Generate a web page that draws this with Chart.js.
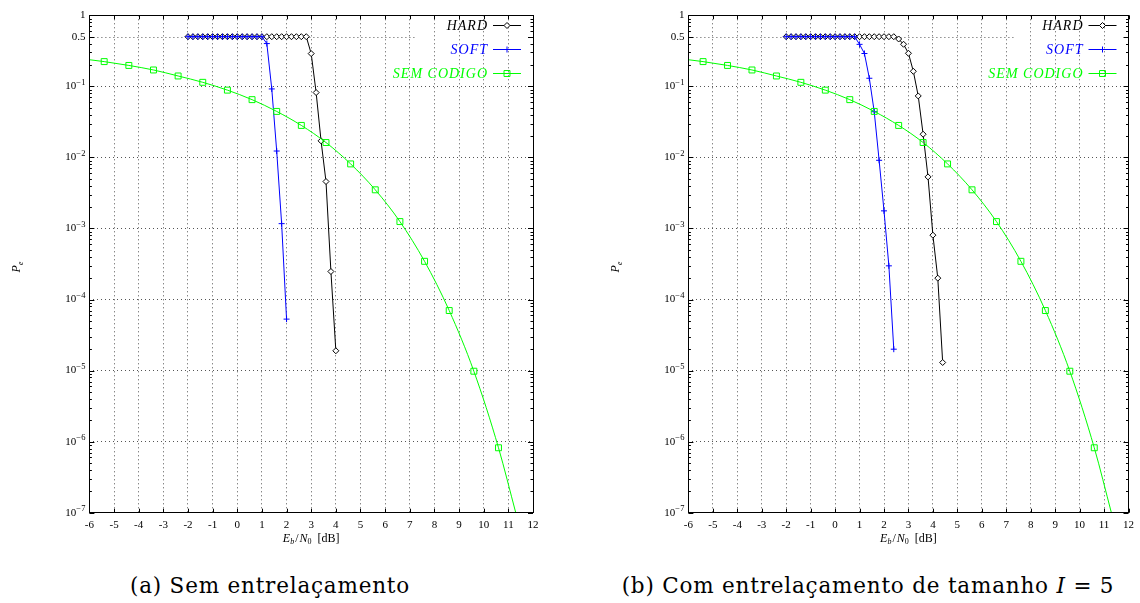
<!DOCTYPE html>
<html>
<head>
<meta charset="utf-8">
<script src="https://cdn.jsdelivr.net/npm/chart.js@4.4.0/dist/chart.umd.min.js"></script>
<style>
  html, body { margin: 0; padding: 0; background: #fff; }
  #wrap { position: relative; width: 1140px; height: 603px; overflow: hidden; }
  canvas { position: absolute; top: 0; }
  #chartA { left: 0; }
  #chartB { left: 570px; }
  .cap { position: absolute; top: 573px; font-family: 'DejaVu Serif', serif; font-size: 21.5px;
         letter-spacing: 0.8px; color: #000; white-space: nowrap; transform: translateX(-50%); }
</style>
</head>
<body>
<div id="wrap">
  <canvas id="chartA" width="570" height="560"></canvas>
  <canvas id="chartB" width="570" height="560"></canvas>
  <div class="cap" style="left:270px">(a) Sem entrelaçamento</div>
  <div class="cap" style="left:868px">(b) Com entrelaçamento de tamanho <i>I</i> = 5</div>
</div>
<script>
const X_TICKS = [-6, -5, -4, -3, -2, -1, 0, 1, 2, 3, 4, 5, 6, 7, 8, 9, 10, 11, 12];
const Y_TICKS = [1e-7, 1e-6, 1e-5, 1e-4, 1e-3, 1e-2, 1e-1, 0.5, 1];
const Y_TICK_LABELS = ['10|-7', '10|-6', '10|-5', '10|-4', '10|-3', '10|-2', '10|-1', '0.5', '1'];
const SERIES_LABELS = ['HARD', 'SOFT', 'SEM CODIGO'];
const SERIES_COLORS = ['#000000', '#0000ff', '#00ff00'];

// (a) sem entrelaçamento
const hardX_a = [-2, -1.8, -1.6, -1.4, -1.2, -1, -0.8, -0.6, -0.4, -0.2, 0, 0.2, 0.4, 0.6, 0.8,
                 1, 1.2, 1.4, 1.6, 1.8, 2, 2.2, 2.4, 2.6, 2.8, 3, 3.2, 3.4, 3.6, 3.8, 4];
const hardY_a = [0.5, 0.5, 0.5, 0.5, 0.5, 0.5, 0.5, 0.5, 0.5, 0.5, 0.5, 0.5, 0.5, 0.5, 0.5,
                 0.5, 0.5, 0.5, 0.5, 0.5, 0.5, 0.5, 0.5, 0.5, 0.5,
                 0.289, 0.0818, 0.0171, 0.00458, 2.48e-4, 1.9e-5];
const softX_a = [-2, -1.8, -1.6, -1.4, -1.2, -1, -0.8, -0.6, -0.4, -0.2, 0, 0.2, 0.4, 0.6, 0.8,
                 1, 1.2, 1.4, 1.6, 1.8, 2];
const softY_a = [0.5, 0.5, 0.5, 0.5, 0.5, 0.5, 0.5, 0.5, 0.5, 0.5, 0.5, 0.5, 0.5, 0.5, 0.5,
                 0.5, 0.40, 0.092, 0.0123, 1.17e-3, 5.3e-5];

// (b) com entrelaçamento I = 5
const hardX_b = [-2, -1.8, -1.6, -1.4, -1.2, -1, -0.8, -0.6, -0.4, -0.2, 0, 0.2, 0.4, 0.6, 0.8,
                 1, 1.2, 1.4, 1.6, 1.8, 2, 2.2, 2.4, 2.6, 2.8, 3, 3.2, 3.4, 3.6, 3.8, 4, 4.2, 4.4];
const hardY_b = [0.5, 0.5, 0.5, 0.5, 0.5, 0.5, 0.5, 0.5, 0.5, 0.5, 0.5, 0.5, 0.5, 0.5, 0.5,
                 0.5, 0.5, 0.5, 0.5, 0.5, 0.5, 0.5, 0.5,
                 0.464, 0.391, 0.292, 0.163, 0.0733, 0.0212, 0.00532, 8.05e-4, 2.0e-4, 1.3e-5];
const softX_b = [-2, -1.8, -1.6, -1.4, -1.2, -1, -0.8, -0.6, -0.4, -0.2, 0, 0.2, 0.4, 0.6, 0.8,
                 1, 1.2, 1.4, 1.6, 1.8, 2, 2.2, 2.4];
const softY_b = [0.5, 0.5, 0.5, 0.5, 0.5, 0.5, 0.5, 0.5, 0.5, 0.5, 0.5, 0.5, 0.5, 0.5, 0.5,
                 0.39, 0.29, 0.13, 0.044, 0.0091, 1.77e-3, 2.98e-4, 2.0e-5];

// sem codigo (same curve on both plots)
const uncodedX = [-6, -5.4, -4.4, -3.4, -2.4, -1.4, -0.4, 0.6, 1.6, 2.6, 3.6, 4.6, 5.6, 6.6,
                  7.6, 8.6, 9.6, 10.6, 11.3];
const uncodedY = [0.237, 0.223, 0.197, 0.170, 0.140, 0.114, 0.0885, 0.065, 0.0444, 0.0282,
                  0.0162, 0.0081, 0.0035, 0.00125, 3.45e-4, 7.0e-5, 9.8e-6, 8.2e-7, 1.0e-7];

const SERIF = "'Liberation Serif', 'DejaVu Serif', serif";
const GRID_COLOR = '#555';
const W = 570, H = 560;

function pts(xs, ys) {
  return xs.map((x, i) => ({ x: x, y: ys[i] }));
}

// draws a run of text pieces (sub/superscripts), returns width
function pieces(ctx, list, x, y, measureOnly) {
  let cx = x;
  list.forEach(p => {
    ctx.font = (p.italic ? 'italic ' : '') + p.size + 'px ' + SERIF;
    if (!measureOnly) ctx.fillText(p.t, cx, y + (p.dy || 0));
    cx += ctx.measureText(p.t).width + (p.gap || 0);
  });
  return cx - x;
}

const decor = {
  id: 'decor',
  beforeDatasetsDraw(chart, args, opts) {
    const { ctx, chartArea: a, scales: { y } } = chart;
    const yy = Math.round(y.getPixelForValue(0.5)) + 0.5;
    ctx.save();
    ctx.strokeStyle = GRID_COLOR;
    ctx.lineWidth = 1;
    ctx.setLineDash([1, 3]);
    ctx.beginPath();
    ctx.moveTo(a.left, yy);
    ctx.lineTo(a.left + opts.halfGridLen, yy);
    ctx.stroke();
    ctx.restore();
  },
  afterDraw(chart, args, opts) {
    const { ctx, chartArea: a, scales: { x, y } } = chart;
    ctx.save();
    ctx.strokeStyle = '#000';
    ctx.fillStyle = '#000';
    ctx.lineWidth = 1;

    // ticks (inward)
    ctx.beginPath();
    X_TICKS.forEach(v => {
      const px = Math.round(x.getPixelForValue(v)) + 0.5;
      ctx.moveTo(px, a.bottom); ctx.lineTo(px, a.bottom - 4);
      ctx.moveTo(px, a.top); ctx.lineTo(px, a.top + 4);
    });
    Y_TICKS.forEach(v => {
      const py = Math.round(y.getPixelForValue(v)) + 0.5;
      ctx.moveTo(a.left, py); ctx.lineTo(a.left + 5, py);
      ctx.moveTo(a.right, py); ctx.lineTo(a.right - 5, py);
    });
    for (let d = 1e-7; d < 0.5; d *= 10) {
      for (let m = 2; m <= 9; m++) {
        const v = m * d;
        if (Math.abs(v - 0.5) < 1e-9) continue;
        const py = Math.round(y.getPixelForValue(v)) + 0.5;
        ctx.moveTo(a.left, py); ctx.lineTo(a.left + 2.5, py);
        ctx.moveTo(a.right, py); ctx.lineTo(a.right - 2.5, py);
      }
    }
    ctx.stroke();

    // frame
    ctx.strokeRect(Math.round(a.left) + 0.5, Math.round(a.top) + 0.5,
                   Math.round(a.right - a.left), Math.round(a.bottom - a.top));

    // y tick labels
    ctx.textBaseline = 'middle';
    Y_TICKS.forEach((v, i) => {
      const py = y.getPixelForValue(v);
      const lab = Y_TICK_LABELS[i].split('|');
      let list = [{ t: lab[0], size: 11 }];
      if (lab.length > 1) list.push({ t: lab[1].replace('-', '\u2212'), size: 8.5, dy: -4 });
      const w = pieces(ctx, list, 0, 0, true);
      pieces(ctx, list, a.left - 4 - w, py);
    });

    // axis titles
    ctx.textBaseline = 'alphabetic';
    const xt = [{ t: 'E', italic: true, size: 12 }, { t: 'b', italic: true, size: 8, dy: 2.5, gap: 1 },
                { t: '/', size: 12, gap: 1 }, { t: 'N', italic: true, size: 12 }, { t: '0', size: 8, dy: 2.5 },
                { t: '  [dB]', size: 12 }];
    const xw = pieces(ctx, xt, 0, 0, true);
    pieces(ctx, xt, (a.left + a.right) / 2 - xw / 2, a.bottom + 29);

    ctx.save();
    ctx.translate(a.left - 69, 267);
    ctx.rotate(-Math.PI / 2);
    const yt = [{ t: 'P', italic: true, size: 12 }, { t: 'e', italic: true, size: 8, dy: 2.5 }];
    const yw = pieces(ctx, yt, 0, 0, true);
    pieces(ctx, yt, -yw / 2, 0);
    ctx.restore();

    // legend
    const rows = [10, 34, 58];
    chart.data.datasets.forEach((ds, i) => {
      const ly = a.top + rows[i];
      ctx.fillStyle = SERIES_COLORS[i];
      ctx.strokeStyle = SERIES_COLORS[i];
      ctx.font = 'italic 14px ' + SERIF;
      ctx.letterSpacing = '1px';
      ctx.textAlign = 'right';
      ctx.textBaseline = 'middle';
      ctx.fillText(ds.label, a.right - 45, ly + 1);
      ctx.letterSpacing = '0px';
      ctx.beginPath();
      ctx.moveTo(a.right - 40, Math.round(ly) + 0.5);
      ctx.lineTo(a.right - 12, Math.round(ly) + 0.5);
      ctx.stroke();
      ctx.fillStyle = i === 0 ? '#fff' : 'rgba(255,255,255,0)';
      Chart.helpers.drawPoint(ctx, { pointStyle: ds.pointStyle, radius: i === 2 ? 4.2 : 3, borderWidth: 1 },
                              a.right - 26, Math.round(ly) + 0.5);
    });
    ctx.restore();
  }
};

function makeChart(id, area, hardX, hardY, softX, softY) {
  const last = uncodedX.length - 1;
  return new Chart(document.getElementById(id), {
    type: 'line',
    data: {
      datasets: [
        { label: SERIES_LABELS[0], data: pts(hardX, hardY), borderColor: SERIES_COLORS[0], borderWidth: 1,
          pointStyle: 'rectRot', pointRadius: 3, pointBorderWidth: 1, pointBorderColor: SERIES_COLORS[0],
          pointBackgroundColor: '#fff', order: 3 },
        { label: SERIES_LABELS[1], data: pts(softX, softY), borderColor: SERIES_COLORS[1], borderWidth: 1,
          pointStyle: 'cross', pointRadius: 3, pointBorderWidth: 1, pointBorderColor: SERIES_COLORS[1],
          order: 2 },
        { label: SERIES_LABELS[2], data: pts(uncodedX, uncodedY), borderColor: SERIES_COLORS[2], borderWidth: 1,
          pointStyle: 'rect', pointBorderWidth: 1, pointBorderColor: SERIES_COLORS[2],
          pointBackgroundColor: 'rgba(255,255,255,0)',
          pointRadius: c => (c.dataIndex === 0 || c.dataIndex === last) ? 0 : 4.2,
          cubicInterpolationMode: 'monotone', order: 1 }
      ]
    },
    options: {
      responsive: false,
      animation: false,
      devicePixelRatio: 1,
      layout: { padding: { left: 0, top: area.top, right: W - area.right, bottom: 0 } },
      plugins: {
        legend: { display: false },
        tooltip: { enabled: false },
        decor: { halfGridLen: 328 }
      },
      scales: {
        x: {
          type: 'linear', min: -6, max: 12,
          afterBuildTicks: s => { s.ticks = X_TICKS.map(v => ({ value: v })); },
          afterFit: s => { s.height = H - area.bottom; },
          ticks: { font: { family: SERIF, size: 11 }, color: '#000', padding: 6, maxRotation: 0,
                   autoSkip: false, callback: v => String(v) },
          grid: { drawTicks: false, lineWidth: 1,
                  color: c => (c.tick && (c.tick.value === -6 || c.tick.value === 12)) ? 'rgba(0,0,0,0)' : GRID_COLOR },
          border: { display: false, dash: [1, 3] }
        },
        y: {
          type: 'logarithmic', min: 1e-7, max: 1,
          afterBuildTicks: s => { s.ticks = Y_TICKS.map(v => ({ value: v })); },
          afterFit: s => { s.width = area.left; },
          ticks: { display: false, autoSkip: false },
          grid: { drawTicks: false, lineWidth: 1,
                  color: c => (c.tick && (c.tick.value === 0.5 || c.tick.value === 1 || c.tick.value === 1e-7))
                    ? 'rgba(0,0,0,0)' : GRID_COLOR },
          border: { display: false, dash: [1, 3] }
        }
      }
    },
    plugins: [decor]
  });
}

makeChart('chartA', { left: 89.4, right: 533, top: 15.3, bottom: 512.7 }, hardX_a, hardY_a, softX_a, softY_a);
makeChart('chartB', { left: 118.4, right: 561.6, top: 15.3, bottom: 512.7 }, hardX_b, hardY_b, softX_b, softY_b);
</script>
</body>
</html>
